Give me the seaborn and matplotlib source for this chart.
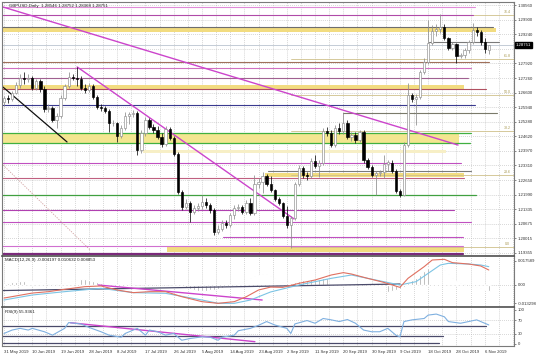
import numpy as np
import pandas as pd
import matplotlib
matplotlib.use("Agg")
import matplotlib.pyplot as plt
import matplotlib.transforms as mtransforms
import seaborn as sns

sns.set_theme(style="white")
plt.rcParams['font.family'] = ['Liberation Sans', 'DejaVu Sans']

# ---------------- data ----------------
date_labels = ["31 May 2019", "10 Jun 2019", "19 Jun 2019", "28 Jun 2019", "8 Jul 2019",
               "17 Jul 2019", "26 Jul 2019", "5 Aug 2019", "14 Aug 2019", "23 Aug 2019",
               "2 Sep 2019", "11 Sep 2019", "20 Sep 2019", "30 Sep 2019", "9 Oct 2019",
               "18 Oct 2019", "28 Oct 2019", "6 Nov 2019"]

opens = [1.2618, 1.2636, 1.2631, 1.2658, 1.2694, 1.2726, 1.2722, 1.2726, 1.2681, 1.2712,
         1.2676, 1.2586, 1.2591, 1.2536, 1.2554, 1.2636, 1.2690, 1.2731, 1.2726, 1.2722,
         1.2681, 1.2672, 1.2690, 1.2640, 1.2595, 1.2591, 1.2577, 1.2523, 1.2523, 1.2464,
         1.2500, 1.2554, 1.2563, 1.2568, 1.2401, 1.2478, 1.2536, 1.2505, 1.2491, 1.2459,
         1.2428, 1.2496, 1.2455, 1.2383, 1.2211, 1.2143, 1.2161, 1.2121, 1.2139, 1.2148,
         1.2166, 1.2152, 1.2130, 1.2030, 1.2044, 1.2071, 1.2062, 1.2107, 1.2139, 1.2143,
         1.2121, 1.2161, 1.2116, 1.2247, 1.2256, 1.2283, 1.2247, 1.2220, 1.2179, 1.2161,
         1.2102, 1.2062, 1.2093, 1.2247, 1.2319, 1.2288, 1.2283, 1.2351, 1.2328, 1.2342,
         1.2487, 1.2478, 1.2423, 1.2500, 1.2487, 1.2523, 1.2459, 1.2468, 1.2446, 1.2482,
         1.2355, 1.2324, 1.2288, 1.2297, 1.2301, 1.2337, 1.2342, 1.2306, 1.2215, 1.2197,
         1.2423, 1.2649, 1.2631, 1.2640, 1.2753, 1.2798, 1.2884, 1.2938, 1.2948, 1.2957,
         1.2907, 1.2862, 1.2880, 1.2825, 1.2830, 1.2853, 1.2889, 1.2943, 1.2934, 1.2889,
         1.28546]
highs = [1.2645, 1.2649, 1.2667, 1.2708, 1.2744, 1.2753, 1.2744, 1.2735, 1.2722, 1.2722,
         1.2690, 1.2609, 1.2600, 1.2568, 1.2649, 1.2699, 1.2753, 1.2744, 1.2776, 1.2735,
         1.2699, 1.2703, 1.2699, 1.2649, 1.2609, 1.2600, 1.2586, 1.2536, 1.2527, 1.2514,
         1.2572, 1.2572, 1.2581, 1.2577, 1.2491, 1.2550, 1.2545, 1.2518, 1.2509, 1.2478,
         1.2509, 1.2505, 1.2464, 1.2392, 1.2220, 1.2179, 1.2170, 1.2152, 1.2161, 1.2197,
         1.2184, 1.2161, 1.2139, 1.2062, 1.2084, 1.2084, 1.2116, 1.2152, 1.2157, 1.2152,
         1.2175, 1.2184, 1.2288, 1.2274, 1.2301, 1.2292, 1.2283, 1.2224, 1.2188, 1.2166,
         1.2148, 1.2102, 1.2256, 1.2333, 1.2328, 1.2301, 1.2365, 1.2378, 1.2355, 1.2500,
         1.2505, 1.2491, 1.2514, 1.2523, 1.2568, 1.2536, 1.2482, 1.2482, 1.2491, 1.2491,
         1.2365, 1.2333, 1.2306, 1.2310, 1.2378, 1.2355, 1.2355, 1.2315, 1.2224, 1.2437,
         1.2703, 1.2658, 1.2654, 1.2762, 1.2816, 1.2988, 1.2966, 1.2970, 1.3015, 1.2970,
         1.2911, 1.2889, 1.2884, 1.2839, 1.2862, 1.2898, 1.2975, 1.2957, 1.2943, 1.2907,
         1.28752]
lows = [1.2600, 1.2613, 1.2622, 1.2654, 1.2681, 1.2699, 1.2708, 1.2672, 1.2672, 1.2663,
        1.2572, 1.2572, 1.2527, 1.2500, 1.2545, 1.2627, 1.2681, 1.2717, 1.2690, 1.2672,
        1.2658, 1.2663, 1.2631, 1.2586, 1.2577, 1.2568, 1.2482, 1.2509, 1.2437, 1.2455,
        1.2491, 1.2518, 1.2550, 1.2378, 1.2387, 1.2464, 1.2496, 1.2478, 1.2450, 1.2414,
        1.2419, 1.2446, 1.2374, 1.2202, 1.2130, 1.2134, 1.2075, 1.2111, 1.2125, 1.2134,
        1.2139, 1.2116, 1.2016, 1.2021, 1.2034, 1.2048, 1.2053, 1.2089, 1.2125, 1.2111,
        1.2111, 1.2107, 1.2107, 1.2229, 1.2206, 1.2238, 1.2211, 1.2170, 1.2152, 1.2093,
        1.2048, 1.1958, 1.2084, 1.2238, 1.2274, 1.2265, 1.2274, 1.2319, 1.2279, 1.2333,
        1.2464, 1.2414, 1.2414, 1.2473, 1.2473, 1.2450, 1.2441, 1.2432, 1.2437, 1.2342,
        1.2315, 1.2279, 1.2197, 1.2283, 1.2274, 1.2306, 1.2297, 1.2206, 1.2188, 1.2193,
        1.2414, 1.2618, 1.2514, 1.2631, 1.2744, 1.2789, 1.2875, 1.2916, 1.2929, 1.2898,
        1.2853, 1.2853, 1.2794, 1.2816, 1.2816, 1.2839, 1.2880, 1.2916, 1.2875, 1.2839,
        1.28368]
closes = [1.2636, 1.2631, 1.2658, 1.2694, 1.2726, 1.2722, 1.2726, 1.2681, 1.2712, 1.2676,
          1.2586, 1.2591, 1.2536, 1.2554, 1.2636, 1.2690, 1.2731, 1.2726, 1.2722, 1.2681,
          1.2672, 1.2690, 1.2640, 1.2595, 1.2591, 1.2577, 1.2523, 1.2523, 1.2464, 1.2500,
          1.2554, 1.2563, 1.2568, 1.2401, 1.2478, 1.2536, 1.2505, 1.2491, 1.2459, 1.2428,
          1.2496, 1.2455, 1.2383, 1.2211, 1.2143, 1.2161, 1.2121, 1.2139, 1.2148, 1.2166,
          1.2152, 1.2130, 1.2030, 1.2044, 1.2071, 1.2062, 1.2107, 1.2139, 1.2143, 1.2121,
          1.2161, 1.2116, 1.2247, 1.2256, 1.2283, 1.2247, 1.2220, 1.2179, 1.2161, 1.2102,
          1.2062, 1.2093, 1.2247, 1.2319, 1.2288, 1.2283, 1.2351, 1.2328, 1.2342, 1.2487,
          1.2478, 1.2423, 1.2500, 1.2487, 1.2523, 1.2459, 1.2468, 1.2446, 1.2482, 1.2355,
          1.2324, 1.2288, 1.2297, 1.2301, 1.2337, 1.2346, 1.2306, 1.2215, 1.2197, 1.2423,
          1.2649, 1.2631, 1.2640, 1.2753, 1.2798, 1.2884, 1.2938, 1.2948, 1.2957, 1.2907,
          1.2862, 1.2880, 1.2825, 1.2830, 1.2853, 1.2889, 1.2943, 1.2934, 1.2889, 1.2857,
          1.28751]

macd_hist = [0.0007, 0.0014, 0.0022, 0.0022, 0.0029, 0.0029, 0.0036, 0.0029, 0.0029, 0.0022,
             0.0014, 0.0007, 0.0004, 0.0004, 0.0007, 0.0014, 0.0022, 0.0029, 0.0036, 0.0043,
             0.0043, 0.0036, 0.0029, 0.0022, 0.0014, 0.0007, 0.0004, 0.0004, 0.0002, 0.0002,
             0.0004, 0.0004, 0.0004, 0.0002, 0.0002, 0.0004, 0.0004, 0.0002, 0.0002, -0.0002,
             -0.0002, -0.0002, -0.0004, -0.0007, -0.0014, -0.0022, -0.0029, -0.0036, -0.0043, -0.0043,
             -0.0043, -0.0036, -0.0036, -0.0029, -0.0022, -0.0014, -0.0007, 0.0004, 0.0014, 0.0022,
             0.0036, 0.0050, 0.0065, 0.0072, 0.0079, 0.0079, 0.0065, 0.0050, 0.0029, 0.0022,
             0.0014, 0.0014, 0.0022, 0.0029, 0.0036, 0.0036, 0.0043, 0.0043, 0.0043, 0.0050,
             0.0050, 0.0043, 0.0043, 0.0043, 0.0036, 0.0029, 0.0022, 0.0014, 0.0007, 0.0002,
             -0.0014, -0.0029, -0.0036, -0.0043, -0.0050, -0.0050, -0.0043, -0.0036, -0.0029, -0.0014,
             0.0014, 0.0036, 0.0050, 0.0072, 0.0101, 0.0122, 0.0137, 0.0144, 0.0130, 0.0108,
             0.0079, 0.0050, 0.0029, 0.0014, 0.0004, 0.0002, -0.0007, -0.0014, -0.0022, -0.0036,
             -0.0043]

macd_red_idx = [0, 7, 11, 15, 20, 24, 28, 32, 36, 40, 44, 49, 53, 57, 60, 63, 66, 69, 73, 77,
                81, 84, 86, 90, 94, 98, 100, 104, 106, 109, 111, 115, 118, 120]
macd_red = [-0.0094, -0.0058, -0.0048, -0.0031, -0.0012, -0.0007, -0.0036, -0.0055, -0.0048, -0.0048,
            -0.0084, -0.0120, -0.0132, -0.0120, -0.0084, -0.0036, -0.0015, -0.0017, 0.0012, 0.0036,
            0.0072, 0.0089, 0.0079, 0.0048, 0.0019, -0.0017, 0.0048, 0.0132, 0.0180, 0.0185,
            0.0161, 0.0151, 0.0137, 0.0108]
macd_cyan_idx = [0, 7, 15, 24, 32, 40, 49, 53, 57, 61, 66, 73, 77, 81, 86, 90, 94, 98, 102, 105,
                 108, 110, 115, 118, 120]
macd_cyan = [-0.0108, -0.0072, -0.0048, -0.0024, -0.0055, -0.0060, -0.0108, -0.0132, -0.0132, -0.0108,
             -0.0050, 0.0000, 0.0024, 0.0048, 0.0072, 0.0048, 0.0024, 0.0000, 0.0024, 0.0084,
             0.0144, 0.0156, 0.0151, 0.0144, 0.0132]

rsi_idx = [0, 2, 4, 6, 7, 10, 12, 15, 16, 19, 21, 24, 26, 29, 30, 33, 35, 36, 38, 40,
           42, 44, 46, 49, 51, 53, 54, 57, 58, 61, 63, 65, 67, 70, 71, 72, 75, 77, 79, 81,
           83, 85, 87, 89, 91, 93, 95, 96, 97, 98, 99, 101, 104, 105, 107, 109, 110, 113, 115, 117,
           119, 120]
rsi_vals = [31, 41, 46, 41, 46, 36, 26, 46, 63, 59, 49, 36, 26, 20, 31, 46, 26, 41, 36, 26,
            31, 11, 16, 21, 20, 11, 20, 26, 39, 46, 55, 66, 56, 46, 31, 59, 69, 61, 75, 71,
            66, 72, 61, 41, 36, 36, 46, 36, 26, 21, 66, 71, 75, 85, 88, 80, 66, 61, 66, 71,
            61, 56]

price_ticks = [1.30560, 1.29900, 1.29240, 1.27920, 1.27260, 1.26600, 1.25940, 1.25280,
               1.24620, 1.23970, 1.23310, 1.22650, 1.21990, 1.21335, 1.20675, 1.20015, 1.19355]
price_tick_labels = ["1.30560", "1.29900", "1.29240", "1.27920", "1.27260", "1.26600", "1.25940",
                     "1.25280", "1.24620", "1.23970", "1.23310", "1.22650", "1.21990", "1.21335",
                     "1.20675", "1.20015", "1.19355"]
macd_ticks = [0.017589, 0.0, -0.013298]
macd_tick_labels = ["0.017589", "0.00", "-0.013298"]
rsi_ticks = [100, 70, 30, 0]

# horizontal support / resistance levels: price, start bar, end bar, colour, width
level_prices = [1.3047, 1.3013, 1.2955, 1.2889, 1.2798, 1.2771, 1.2726, 1.2676, 1.2604, 1.2568,
                1.2478, 1.2433, 1.2342, 1.2306, 1.2272, 1.2195, 1.2130, 1.2075, 1.2007, 1.1967, 1.1931]
level_style = [(-1, 116.6, "#e08ad8", 0.8), (-1, 116.0, "#b04aa8", 0.8), (-1, 121.0, "#6e6e6e", 0.8),
               (105.2, 122.5, "#7a7a7a", 0.8), (-1, 120.0, "#a0705a", 0.8), (-1, 115.6, "#d070c0", 0.8),
               (-1, 114.9, "#a06090", 0.8), (-1, 119.3, "#b05060", 0.8), (-1, 116.6, "#3a3a90", 0.8),
               (83.9, 122.0, "#7a7a6a", 0.8), (-1, 115.6, "#40b040", 0.9), (-1, 115.3, "#40b040", 0.9),
               (-1, 113.1, "#c050c0", 0.8), (65.3, 115.6, "#7a7a7a", 0.8), (-1, 113.9, "#c06080", 0.8),
               (-1, 116.8, "#40a040", 0.9), (-1, 111.4, "#b040b0", 0.8), (-1, 115.6, "#c050c0", 0.8),
               (54.2, 113.6, "#c050c0", 0.8), (-1, 113.6, "#d070d0", 0.8), (-1, 113.6, "#7a2a7a", 1.6)]
# yellow zones: low, high, start, end
band_lows = [1.2934, 1.2676, 1.2433, 1.2387, 1.2279, 1.1940]
band_highs = [1.2952, 1.2694, 1.2473, 1.2401, 1.2297, 1.1962]
band_style = [(-1, 121.8, "#f2dc80"), (-1, 113.9, "#f2dc80"), (-1, 112.6, "#f3e690"),
              (34.4, 109.4, "#f7efc6"), (64.6, 113.9, "#f2dc80"), (40.3, 113.9, "#f2dc80")]
# Fibonacci retracement
fib_names = ["0.0", "23.6", "38.2", "50.0", "61.8", "76.4"]
fib_prices = [1.1962, 1.2287, 1.2486, 1.2649, 1.2812, 1.3013]
bid_price = 1.28751

# trend lines (bar index, value)
tl_magenta1 = ([-0.25, 112.4], [1.3047, 1.2423])
tl_magenta2 = ([18.1, 71.8], [1.2776, 1.2089])
tl_black = ([-0.25, 15.6], [1.2685, 1.2437])
tl_dotted = ([-0.25, 21.3], [1.2333, 1.1949])
macd_tl = ([23.3, 63.9], [0.0, -0.0108])
macd_dark = ([-0.5, 98.0], [-0.0040, 0.0007])
rsi_tl = ([16.4, 62.1], [62.6, 6.8])
rsi_level_vals = [53, 23.5, 4]
rsi_level_ends = [119.3, 108.7, 107.7]

# ---------------- figure ----------------
W, H = 536, 358
fig = plt.figure(figsize=(W / 100, H / 100), dpi=100)
fig.patch.set_facecolor("white")
left, width = 2 / W, 512 / W
ax_p = fig.add_axes([left, 1 - 256 / H, width, 254 / H])
ax_m = fig.add_axes([left, 1 - 307 / H, width, 51 / H])
ax_r = fig.add_axes([left, 1 - 346 / H, width, 39 / H])

XL = (-0.5, 126.24)
FS = 3.1
grid_kw = dict(color="#b4b4b4", lw=0.5, ls=(0, (1, 1.8)), zorder=0)
vgrid = np.arange(0, 127, 3.5)

for ax in (ax_p, ax_m, ax_r):
    ax.set_xlim(*XL)
    ax.set_facecolor("white")
    for s in ax.spines.values():
        s.set_color("#7a7a7a")
        s.set_linewidth(0.8)
    for gx in vgrid:
        ax.axvline(gx, **grid_kw)
    ax.yaxis.tick_right()
    ax.tick_params(axis="y", labelsize=FS, length=1.5, width=0.4, pad=1, colors="#303030")
    ax.tick_params(axis="x", length=0)
    ax.set_xticks([])

# --- price panel
ax_p.set_ylim(1.19215, 1.30696)
for t in price_ticks + [1.28580]:
    ax_p.axhline(t, **grid_kw)

for lo, hi, (s, e, c) in zip(band_lows, band_highs, band_style):
    ax_p.fill_between([s, e], lo, hi, color=c, lw=0, zorder=1)

for f_name, f_p in zip(fib_names, fib_prices):
    ax_p.plot([71, XL[1]], [f_p, f_p], color="#cfc08a", lw=0.6, zorder=1.5)
    ax_p.text(124.6, f_p + 0.0003, f_name, fontsize=2.6, color="#a89850",
              ha="center", va="bottom", zorder=2)

for p, (s, e, c, lw) in zip(level_prices, level_style):
    ax_p.plot([s, e], [p, p], color=c, lw=lw, zorder=2)

ax_p.axhline(bid_price, color="#c4ccd6", lw=0.7, zorder=1.8)

ax_p.plot(*tl_magenta1, color="#cc44cc", lw=1.0, zorder=2.5)
ax_p.plot(*tl_magenta2, color="#cc44cc", lw=1.0, zorder=2.5)
ax_p.plot(*tl_black, color="#101010", lw=0.9, zorder=2.5)
ax_p.plot(*tl_dotted, color="#d0a0a0", lw=0.6, ls=(0, (1.5, 1.5)), zorder=2.5)

df = pd.DataFrame({"i": np.arange(len(closes)), "o": opens, "h": highs, "l": lows, "c": closes})
df["up"] = df["c"] >= df["o"]
body_lo = df[["o", "c"]].min(axis=1)
body_h = (df["c"] - df["o"]).abs().clip(lower=0.00012)
wick_col = np.where(df["up"], "#8c8c8c", "#111111")
ax_p.vlines(df["i"], df["l"], df["h"], colors=wick_col, lw=0.55, zorder=3)
ax_p.bar(df["i"], body_h, bottom=body_lo, width=0.56,
         color=np.where(df["up"], "white", "black"),
         edgecolor=np.where(df["up"], "#8c8c8c", "black"), linewidth=0.45, zorder=4)

ax_p.set_yticks(price_ticks)
ax_p.set_yticklabels(price_tick_labels)
ax_p.text(0.013, 0.993, "GBPUSD,Daily  1.28546 1.28752 1.28368 1.28751",
          transform=ax_p.transAxes, fontsize=3.2, va="top", ha="left", color="#202020")
trans_p = mtransforms.blended_transform_factory(ax_p.transAxes, ax_p.transData)
ax_p.text(1.004, bid_price, "1.28751", transform=trans_p, fontsize=FS, color="white",
          va="center", ha="left", clip_on=False,
          bbox=dict(boxstyle="square,pad=0.25", fc="black", ec="black"))

# --- MACD panel
ax_m.set_ylim(-0.01584, 0.02088)
ax_m.axhline(0, **grid_kw)
ax_m.bar(np.arange(len(macd_hist)), macd_hist, width=0.36, color="#9a9a9a", zorder=2)
ax_m.plot(*macd_dark, color="#4a4a6a", lw=0.9, zorder=2.5)
ax_m.plot(*macd_tl, color="#cc44cc", lw=1.0, zorder=2.6)
sns.lineplot(x=macd_cyan_idx, y=macd_cyan, ax=ax_m, color="#7cc4e4", lw=0.8, zorder=3, legend=False)
sns.lineplot(x=macd_red_idx, y=macd_red, ax=ax_m, color="#e07060", lw=0.8, zorder=3.1, legend=False)
ax_m.set_xlim(*XL)
ax_m.set_xticks([])
ax_m.set_yticks(macd_ticks)
ax_m.set_yticklabels(macd_tick_labels)
ax_m.set_ylabel("")
ax_m.text(0.005, 0.96, "MACD(12,26,9) -0.004197 0.010632 0.008853", transform=ax_m.transAxes,
          fontsize=3.2, va="top", ha="left", color="#202020")
ax_m.spines["top"].set_color("#505050")
ax_m.spines["top"].set_linewidth(1.2)

# --- RSI panel
ax_r.set_ylim(-5.9, 108.8)
for lvl in (70, 30):
    ax_r.axhline(lvl, **grid_kw)
for v, e in zip(rsi_level_vals, rsi_level_ends):
    ax_r.plot([XL[0], e], [v, v], color="#4a4a6a", lw=0.9, zorder=2)
ax_r.plot(*rsi_tl, color="#cc44cc", lw=1.0, zorder=2.6)
sns.lineplot(x=rsi_idx, y=rsi_vals, ax=ax_r, color="#7fb0e0", lw=0.8, zorder=3, legend=False)
ax_r.set_xlim(*XL)
ax_r.set_yticks(rsi_ticks)
ax_r.set_yticklabels([str(t) for t in rsi_ticks])
ax_r.set_ylabel("")
ax_r.text(0.005, 0.93, "RSI(9) 55.9361", transform=ax_r.transAxes,
          fontsize=3.2, va="top", ha="left", color="#202020")
ax_r.spines["top"].set_color("#505050")
ax_r.spines["top"].set_linewidth(1.2)
ax_r.set_xticks(np.arange(0, 7 * len(date_labels), 7))
ax_r.set_xticklabels(date_labels, ha="left")
ax_r.tick_params(axis="x", labelsize=FS, length=1.5, width=0.4, pad=1.5, colors="#303030")

fig.savefig("out.png", dpi=100, facecolor="white")
